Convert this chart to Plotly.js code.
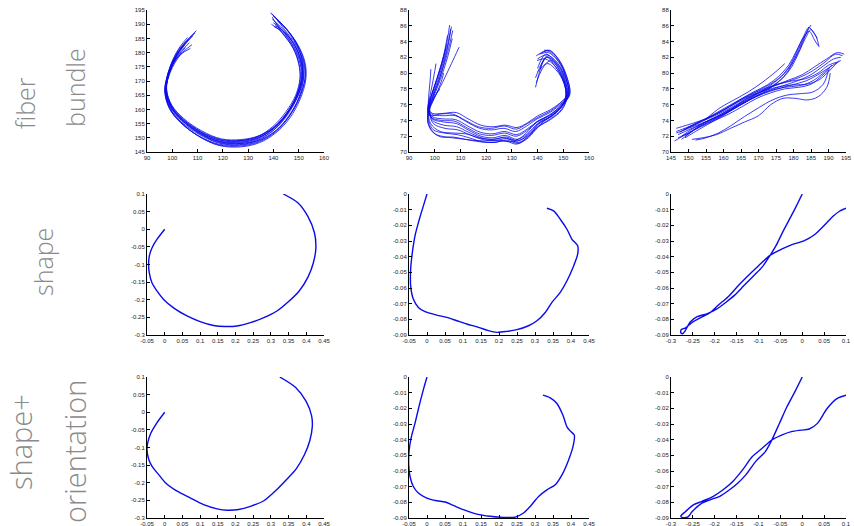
<!DOCTYPE html>
<html><head><meta charset="utf-8">
<script src="https://cdn.plot.ly/plotly-3.0.1.min.js"></script>
<style>html,body{margin:0;padding:0;background:#fff}#chart{width:854px;height:526px}</style>
</head><body><div id="chart"></div>
<script>
// ---------- Row 1: fiber bundles ----------
const fibersA_x = [
 [109.5,105,101,98.3,97.3,99,103.5,110.5,118.5,127,134.5,141,146.5,150.5,152.8,152.5,149.5,144.5,138.8],
 [106,103,100.2,98,97.2,99.2,104,111,119,127,134,140.5,145.5,149.5,151.5,151,148.5,144,140],
 [107.2,103.5,100.5,98.3,97.6,99.6,104.3,111.2,119,127,133.8,139.8,144.8,148.8,150.5,150,147.8,143.5,139.2],
 [105.5,102.5,100,98,97.4,99.4,104,111,118.8,126.8,134,140.2,145.2,149.2,151.2,150.8,148.2,143.8,139.6],
 [108.5,104.5,101,98.5,97.8,99.8,104.5,111.5,119.5,127.5,134.5,141,146,150,152,151.6,149,144.5,140.3],
 [106.8,103.6,100.6,98.2,97.2,99,103.6,110.6,118.6,126.6,133.6,139.8,144.8,148.8,150.6,150.2,147.8,143.4,139.5],
 [107.8,104,100.8,98.4,97.5,99.3,103.8,111,119,127.4,134.8,141.2,146.2,150,151.8,151.2,148.8,144.4,140.6],
 [104.8,102.2,99.8,97.8,97,98.8,103.2,110.2,118.2,126.5,134.2,140.8,146,150.2,152.6,152.2,149.6,145,139.8],
 [108,104.2,100.8,98.4,97.6,99.6,104.2,111.3,119.3,127.3,134.3,140.6,145.6,149.6,151.6,151.3,148.6,144.2,140.8],
 [106.4,103.2,100.4,98.1,97.1,98.9,103.4,110.4,118.4,126.8,134.4,141,146.2,150.3,152.4,152,149.2,144.8,139.2],
 [105.2,102.8,100.3,98.2,97.5,99.5,104.1,111.1,118.9,126.9,133.9,140,145,149,151,150.6,148,143.6,140.2],
 [109,105.2,101.4,98.6,97.7,99.7,104.4,111.4,119.4,127.2,134.2,140.4,145.4,149.4,151.4,151.4,149.2,145,141.5]
];
const fibersA_y = [
 [187.7,183.5,178,172,166.5,160.5,155.5,150.5,147.3,146.8,148.3,151.8,157,163.5,170.5,176.5,183,189,194],
 [185.3,182,177.5,171.5,166.8,161,156,151.5,148.5,148,149.5,153,158,164.5,171,176.5,182.5,187.5,190.5],
 [181.5,179.5,176.5,171.5,166.5,161,156.3,152,149.2,149,150.5,154,159,165,171,176,181.5,187,190],
 [184,181,176.8,171.5,166.6,161.2,156.2,151.8,148.8,148.5,150,153.5,158.5,164.8,171,176.2,182,187.5,191.8],
 [186.6,182.8,177.8,172,166.8,161.5,156.8,152.5,149.6,149.4,150.8,154.2,159.2,165.3,171.5,176.8,182.5,188,192.8],
 [183.5,180.5,176.5,171,166.2,160.6,155.6,151.2,148.1,147.6,149,152.5,157.6,164,170.6,175.8,181.6,187,192.5],
 [182.8,180,176,171,166.3,160.8,156,151.3,148.2,148,149.3,152.7,157.6,164,170.6,176,181.8,187.2,189.5],
 [182.5,180,176.2,171.2,166.4,160.4,155.4,150.8,147.8,147.4,148.8,152.4,157.6,164.2,171,176.6,182.6,188.4,193],
 [185.8,182.2,177.4,171.6,166.6,161.2,156.4,152,149,148.8,150.2,153.6,158.6,164.8,171.2,176.5,182.3,187.8,190.8],
 [184.6,181.4,177,171.4,166.4,160.4,155.3,150.6,147.5,147.1,148.6,152.2,157.4,164,170.8,176.4,182.6,188.6,193.8],
 [181.8,179.2,175.8,171.2,166.5,161.1,156.1,151.6,148.6,148.3,149.8,153.3,158.3,164.6,170.8,176,181.8,187.3,189.2],
 [187,183,178.2,172.2,166.9,161.4,156.6,152.2,149.4,149.1,150.5,154,159,165.1,171.4,177,183,188.5,191.2]
];
const fibersB_x = [
 [105.8,104.2,101.5,99,97.6,98.8,103,108,112.5,117.5,122,127,131.5,135.8,139.8,144.8,149.5,152.5,151,148,144,139.5],
 [107,105,102,99.3,97.8,99.2,103.5,108.5,113,118,122.5,127.5,132,136,140,144.5,149,151.8,150.5,147.5,143.5,140],
 [109.5,106.5,103,99.8,98,99.5,104,109,113.5,118.5,123,128,132.5,136.5,140.5,145,149.3,151.2,150,147,143,139.8],
 [100.5,99.6,98.6,97.8,97.2,98.2,102,107,112,117,122,127,131.8,136,140.2,145,149.5,152,150.6,147.6,143.6,139.2],
 [102,100.5,99,98,97.4,97.3,99,102.5,107,112,117.5,122.5,127.5,132,136.5,141,145.5,149.5,151,149.8,147,143.5,139.2],
 [106.2,104.5,101.8,99.2,97.7,99,103.2,108.2,112.8,117.8,122.3,127.3,131.8,135.9,140,144.6,149.2,152.2,150.8,148,144.2,140.8],
 [104.5,103.2,101,98.8,97.5,98.4,102.2,107.5,112.2,117.2,122,127,131.5,135.6,139.6,144.4,148.8,151.4,150.2,147.2,143.4,141],
 [106.8,105,102.2,99.5,97.9,99.2,103.6,108.6,113.2,118.2,122.8,127.8,132.2,136.2,140.2,144.8,149.2,151.6,150.4,147.4,143.2,140],
 [105,103.5,101.2,98.9,97.6,98.6,102.6,107.8,112.4,117.4,122.1,127.2,131.7,135.8,139.9,144.7,149.3,152,150.8,148.2,144.6,141.6],
 [98.5,98.2,97.8,97.5,97.6,99.5,103.8,108.8,113.4,118.4,123,128,132.4,136.4,140.4,145,149.4,151.4,150.2,147.2,143.6,139.5],
 [106.5,104.8,102,99.4,97.8,99.1,103.4,108.4,113,118,122.6,127.6,132,136.1,140.1,144.7,149.1,152.4,151,148.3,145,142.5],
 [103.5,102.2,100.4,98.6,97.4,97.6,100.2,104.5,109.5,114.5,119.5,124.5,129.5,134,138,142.5,147,150.6,150.8,148.8,145.5,140.2]
];
const fibersB_y = [
 [86.1,83,80,77.5,75.8,74.8,74.6,74.6,73.8,73,72.8,73,72.6,73.3,74.2,75,76.2,77.2,79.8,81.6,82.8,82.2],
 [85.4,82.6,79.4,77,75.4,74.2,73.8,73.6,72.8,72,71.8,72.1,71.6,72.3,73.6,74.4,75.6,77,79.4,81.4,82.3,81.8],
 [83.3,81.2,78.8,76.8,75.2,73.6,73,72.8,72.2,71.6,71.4,71.7,71.2,72,73.3,74.2,75.4,77,79,80.8,81.8,81.6],
 [81.2,79.5,77.8,76.5,75.2,74.6,74.8,74.8,74,73.2,73,73.3,72.9,73.6,74.4,75.2,76.4,77.6,79.6,81.2,82,79.4],
 [78,77.3,76.5,75.8,75,73.8,72.6,71.9,71.9,71.6,71.3,71.2,71.4,71,72,73.8,74.5,75.8,77.3,79.2,80.8,82,78.2],
 [85.6,82.8,79.7,77.2,75.6,74.5,74.2,74.1,73.3,72.5,72.3,72.6,72.2,72.9,73.9,74.7,75.9,77.1,79.6,81.5,82.6,82.4],
 [83.5,81.6,79.3,77.2,75.5,73.6,72.6,72.4,72.3,71.8,71.6,71.8,71.5,72.4,73.8,74.6,75.8,77.2,79.2,81,82.1,80.5],
 [84.4,82,79.2,76.9,75.3,74,73.4,73.2,72.5,71.8,71.6,71.9,71.4,72.2,73.5,74.4,75.7,77.1,79.3,81.2,82.4,80.6],
 [84.8,82.3,79.6,77.3,75.6,74.4,74,73.9,73.1,72.3,72.1,72.4,72,72.7,73.8,74.6,75.8,77.2,79.7,81.7,82.9,82.6],
 [80.5,79,77.6,76.2,74,72.8,72.4,72.2,71.8,71.3,71.2,71.5,71.1,71.8,73.2,74.1,75.3,76.9,78.8,80.4,81.2,78.8],
 [85.9,82.9,79.5,77.1,75.5,74.9,74.9,75,74.2,73.4,73.2,73.4,73.1,73.7,74.6,75.3,76.3,77.4,79.9,81.7,82.8,82.9],
 [80,78.6,77.2,76,74.8,73.5,72.3,71.9,71.7,71.5,71.4,71.5,71.3,71.6,72.6,73.9,75,76.5,78.4,80.2,81.6,80.2]
];
const fibersC_x = [
 [147,150,153,157,161,165,169,173,176,178.5,180.5,182.5,184.2,185],
 [148,151,154,158,162,166,170,174,177,179.5,181.5,183.5,185,186.5,187.3],
 [146.5,149.5,153,157,161,165,169,173,176.5,179,181,183,184.5,186,187],
 [149,152,155.5,159.5,163.5,167,171,174.5,177.5,179.8,181.8,183.4,184.4],
 [147.5,150.5,154,158,162,166,170,174,178,182,185.5,189,192,194],
 [146,149.5,153,157,161,165,169,173,177,181,185,188.5,191.5,193.5],
 [148.5,152,155.5,159.5,163.5,167.5,171.5,175.5,179.5,183.5,187,190,192.5],
 [147,150,153.5,157.5,161.5,165.5,169.5,173.5,177.5,181.5,185,188,190.5],
 [151,154,158,162,166,170,173.5,177,180.5,184,187,189.5,190.5],
 [149.5,152.5,156,160,164,168,172,176,180,184,187.5,190.5,193],
 [155,159,163,167,171,175,177.5],
 [146.5,149.5,152.5,156.5,160.5,164.5,168.5,172.5,175.8,178.6,180.8,182.8,184.4,185.6,186.8],
 [148,151,154.5,158.5,162.5,166.5,170.5,174.5,178.5,182.5,186,189.5,192.5,194.5],
 [146.5,150,153.5,157.5,161.5,165.5,169.5,173.5,177.5,181.5,185,188.5,191],
 [149,152,155.5,159.5,163.5,167.5,171.5,175.5,179.5,183.5,187,190.5,193.5],
 [152,155,158.5,162,166,170,174,178,182,185.5,188.5,190]
];
const fibersC_y = [
 [72.2,72.8,73.4,74.2,75,76,77,78,79,80.3,82,84,85.5,86.1],
 [71.6,72.6,73.6,74.5,75.4,76.4,77.4,78.4,79.4,80.8,82.6,84.5,85.5,84.6,83.3],
 [73,73.4,73.9,74.6,75.6,76.7,77.6,78.5,79.6,81,82.8,84.6,85.3,84.2,83.5],
 [72,72.9,73.8,74.6,75.8,76.9,77.8,78.8,80,81.4,83,84.8,85.8],
 [72.5,73.2,73.9,74.7,75.6,76.6,77.5,78.3,78.9,79.5,80.3,81.4,82.4,82.2],
 [71.4,72.3,73.2,74,75,76,77,77.8,78.4,79,79.8,80.9,81.8,82],
 [72.8,73.6,74.3,75.2,76.2,77.2,78,78.6,79,79.3,80,81,81.4],
 [71.8,72.4,73.2,74,74.8,75.8,76.8,77.5,78,78.2,78.6,79.6,80.6],
 [71.6,71.8,72.2,73,73.8,74.6,76,76.8,76.8,76.6,77,78.2,80],
 [73,73.6,74.4,75.3,76.3,77.2,77.8,78.3,78.5,78.6,79.2,80.4,81.6],
 [74.2,75.6,76.6,77.6,78.8,80.2,81.2],
 [72.6,73.1,73.7,74.6,75.6,76.6,77.6,78.5,79.6,81,82.8,84.6,85.8,85.2,84.4],
 [72,72.9,73.7,74.6,75.6,76.6,77.6,78.4,79.1,79.8,80.8,81.8,82.6,82.4],
 [72.4,73,73.6,74.3,75.2,76.2,77.1,77.8,78.2,78.4,78.9,80,81],
 [71.8,72.6,73.5,74.5,75.6,76.6,77.4,78,78.5,79,79.8,80.8,81.6],
 [71.5,71.8,72.4,73.3,74.5,75.6,76.6,77.2,77.4,77.6,78.6,80.4]
];

// ---------- Row 2: shape ----------
const shapeA_x = [0,-0.022,-0.036,-0.0435,-0.0455,-0.0435,-0.036,-0.022,-0.003,0.025,0.063,0.1,0.138,0.171,0.204,0.242,0.28,0.317,0.35,0.38,0.405,0.42,0.427,0.423,0.404,0.376,0.335];
const shapeA_y = [0,-0.029,-0.053,-0.076,-0.1,-0.124,-0.152,-0.175,-0.199,-0.223,-0.246,-0.262,-0.273,-0.276,-0.2745,-0.265,-0.251,-0.232,-0.205,-0.175,-0.135,-0.095,-0.053,-0.01,0.037,0.075,0.1];
const shapeB_x = [0,-0.0073,-0.0212,-0.0333,-0.0407,-0.0454,-0.0454,-0.038,-0.024,-0.0055,0.027,0.0548,0.0827,0.1105,0.143,0.1708,0.194,0.2218,0.2496,0.282,0.3053,0.3285,0.347,0.3702,0.3888,0.4073,0.4185,0.4185,0.4027,0.3888,0.3702,0.3517,0.3331];
const shapeB_y = [0,-0.0055,-0.0161,-0.0267,-0.0374,-0.048,-0.0586,-0.0671,-0.0724,-0.0751,-0.0773,-0.0788,-0.0809,-0.083,-0.0851,-0.0872,-0.0883,-0.0877,-0.0866,-0.0841,-0.0809,-0.0756,-0.0692,-0.0628,-0.0554,-0.0459,-0.0384,-0.0331,-0.0289,-0.0225,-0.0161,-0.0108,-0.0091];
const shapeC_x = [0,-0.015,-0.03,-0.045,-0.06,-0.073,-0.0918,-0.1104,-0.1327,-0.155,-0.1736,-0.1959,-0.2182,-0.24,-0.2555,-0.268,-0.2735,-0.2775,-0.2762,-0.2665,-0.2517,-0.2331,-0.2108,-0.1922,-0.1699,-0.1454,-0.1216,-0.0993,-0.073,-0.0472,-0.0249,0.0048,0.0271,0.0494,0.0717,0.085,0.1];
const shapeC_y = [0,-0.0085,-0.0165,-0.0245,-0.033,-0.039,-0.0467,-0.052,-0.0583,-0.0647,-0.0689,-0.0735,-0.0765,-0.0783,-0.0815,-0.0875,-0.0892,-0.0885,-0.0865,-0.0854,-0.082,-0.079,-0.0758,-0.071,-0.0657,-0.0583,-0.0516,-0.0456,-0.039,-0.0352,-0.0325,-0.0298,-0.0262,-0.0203,-0.0139,-0.011,-0.0091];

// ---------- Row 3: shape + orientation ----------
const orientA_x = [0,-0.022,-0.039,-0.048,-0.05,-0.045,-0.036,-0.017,0.002,0.035,0.072,0.11,0.148,0.176,0.209,0.242,0.28,0.317,0.345,0.372,0.395,0.41,0.417,0.415,0.4,0.37,0.325];
const orientA_y = [0,-0.03,-0.059,-0.087,-0.106,-0.134,-0.153,-0.177,-0.2,-0.224,-0.243,-0.262,-0.274,-0.278,-0.276,-0.267,-0.251,-0.219,-0.19,-0.16,-0.12,-0.08,-0.04,-0.01,0.03,0.07,0.1];
const orientB_x = [0,-0.0093,-0.0213,-0.0324,-0.0444,-0.05,-0.0509,-0.0472,-0.038,-0.024,-0.0008,0.027,0.0502,0.0734,0.1012,0.1383,0.1754,0.2125,0.245,0.2682,0.2867,0.31,0.3331,0.3563,0.3749,0.3934,0.4055,0.4092,0.398,0.3888,0.3776,0.3609,0.3424,0.322];
const orientB_y = [0,-0.0074,-0.018,-0.0286,-0.0392,-0.0476,-0.0561,-0.0635,-0.0699,-0.0741,-0.0773,-0.079,-0.0798,-0.082,-0.0847,-0.0875,-0.0889,-0.0896,-0.0894,-0.0868,-0.0826,-0.0762,-0.072,-0.0688,-0.0625,-0.0529,-0.0445,-0.0371,-0.0345,-0.0318,-0.0244,-0.0169,-0.0133,-0.0116];
const orientC_x = [0,-0.017,-0.035,-0.052,-0.0695,-0.0844,-0.1067,-0.129,-0.1476,-0.1662,-0.1885,-0.2108,-0.2294,-0.2525,-0.261,-0.272,-0.2777,-0.2665,-0.248,-0.2294,-0.2033,-0.181,-0.1587,-0.1364,-0.1141,-0.0918,-0.0695,-0.0472,-0.0249,-0.0026,0.016,0.0346,0.0569,0.0792,0.1];
const orientC_y = [0,-0.0095,-0.019,-0.0295,-0.0402,-0.0476,-0.054,-0.0625,-0.0678,-0.072,-0.0762,-0.0784,-0.0805,-0.0862,-0.0893,-0.0898,-0.0889,-0.0858,-0.0815,-0.0794,-0.0762,-0.072,-0.0667,-0.0593,-0.0508,-0.0455,-0.0402,-0.0371,-0.0349,-0.0339,-0.0332,-0.0296,-0.0201,-0.0138,-0.0116];

// ---------- tick labels ----------
const ticksX_bundleAB = ['90','100','110','120','130','140','150','160'];
const ticksY_bundleA = ['145','150','155','160','165','170','175','180','185','190','195'];
const ticksY_bundleBC = ['70','72','74','76','78','80','82','84','86','88'];
const ticksX_bundleC = ['145','150','155','160','165','170','175','180','185','190','195'];
const ticksX_shapeAB = ['-0.05','0','0.05','0.1','0.15','0.2','0.25','0.3','0.35','0.4','0.45'];
const ticksY_shapeA = ['-0.3','-0.25','-0.2','-0.15','-0.1','-0.05','0','0.05','0.1'];
const ticksY_shapeBC = ['-0.09','-0.08','-0.07','-0.06','-0.05','-0.04','-0.03','-0.02','-0.01','0'];
const ticksX_shapeC = ['-0.3','-0.25','-0.2','-0.15','-0.1','-0.05','0','0.05','0.1'];

const rowLabels = ['fiber', 'bundle', 'shape', 'shape+', 'orientation'];

const BLUE = 'rgb(10,10,235)';
const traces = [];
function addFibers(xs, ys, n) {
  for (let i = 0; i < xs.length; i++) {
    traces.push({type:'scatter', mode:'lines', x: xs[i], y: ys[i], xaxis: 'x'+n, yaxis: 'y'+n,
      line:{color:BLUE, width:0.8, shape:'spline', smoothing:1}, hoverinfo:'skip'});
  }
}
function addCurve(x, y, n) {
  traces.push({type:'scatter', mode:'lines', x: x, y: y, xaxis: 'x'+n, yaxis: 'y'+n,
    line:{color:BLUE, width:1.4, shape:'spline', smoothing:0.8}, hoverinfo:'skip'});
}
addFibers(fibersA_x, fibersA_y, 1);
addFibers(fibersB_x, fibersB_y, 2);
addFibers(fibersC_x, fibersC_y, 3);
addCurve(shapeA_x, shapeA_y, 4);
addCurve(shapeB_x, shapeB_y, 5);
addCurve(shapeC_x, shapeC_y, 6);
addCurve(orientA_x, orientA_y, 7);
addCurve(orientB_x, orientB_y, 8);
addCurve(orientC_x, orientC_y, 9);

const W = 854, H = 526;
const colX = [[147, 324], [409, 589], [671, 846]];
const rowY = [[10, 152], [194, 335], [377, 518]];
function ax(labels, dom) {
  const vals = labels.map(Number);
  return {domain: dom, range:[vals[0], vals[vals.length-1]], tickvals: vals, ticktext: labels,
    showline:true, linecolor:'#000', linewidth:1, ticks:'inside', ticklen:3, tickcolor:'#000',
    showgrid:false, zeroline:false, tickfont:{size:6, family:'Liberation Sans, Arial', color:'#222'},
    ticklabeloverflow:'allow', fixedrange:true, automargin:false};
}
const xt = [ticksX_bundleAB, ticksX_bundleAB, ticksX_bundleC, ticksX_shapeAB, ticksX_shapeAB, ticksX_shapeC, ticksX_shapeAB, ticksX_shapeAB, ticksX_shapeC];
const yt = [ticksY_bundleA, ticksY_bundleBC, ticksY_bundleBC, ticksY_shapeA, ticksY_shapeBC, ticksY_shapeBC, ticksY_shapeA, ticksY_shapeBC, ticksY_shapeBC];

const layout = {width:W, height:H, margin:{l:0,r:0,t:0,b:0}, paper_bgcolor:'#fff', plot_bgcolor:'#fff', showlegend:false, annotations:[]};
for (let i = 0; i < 9; i++) {
  const r = Math.floor(i/3), c = i%3, n = i+1;
  const xd = [colX[c][0]/W, colX[c][1]/W];
  const yd = [1 - rowY[r][1]/H, 1 - rowY[r][0]/H];
  const xa = ax(xt[i], xd); xa.anchor = 'y'+n;
  const ya = ax(yt[i], yd); ya.anchor = 'x'+n;
  layout[n===1?'xaxis':'xaxis'+n] = xa;
  layout[n===1?'yaxis':'yaxis'+n] = ya;
}
const labelPos = [[25, 103, 25], [75, 88, 25], [43, 262, 25], [20, 442, 29], [74, 452, 29]];
rowLabels.forEach((t, i) => {
  layout.annotations.push({text:t, x:labelPos[i][0]/W, y:1-labelPos[i][1]/H, xref:'paper', yref:'paper',
    xanchor:'center', yanchor:'middle', showarrow:false, textangle:-90,
    font:{family:'Open Sans', size:labelPos[i][2], color:'#8a8a8a', weight:300}});
});
Plotly.newPlot('chart', traces, layout, {staticPlot:true, displayModeBar:false});
</script></body></html>
